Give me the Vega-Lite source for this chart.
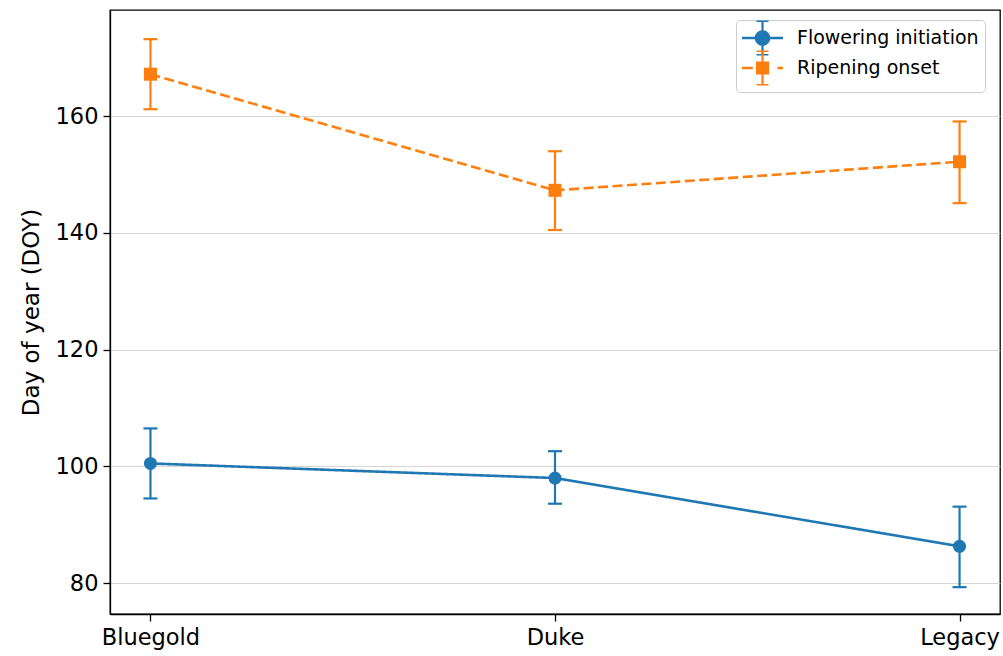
{
  "$schema": "https://vega.github.io/schema/vega-lite/v6.json",
  "autosize": "none",
  "width": 890,
  "height": 604,
  "padding": {"left": 110, "top": 10, "right": 3, "bottom": 42},
  "background": "white",
  "config": {
    "font": "DejaVu Sans",
    "view": {"stroke": "black", "strokeWidth": 1.3}
  },
  "data": {
    "values": [
      {"cultivar": "Bluegold", "stage": "Flowering initiation", "mean": 100.5, "lo": 94.5, "hi": 106.5},
      {"cultivar": "Duke", "stage": "Flowering initiation", "mean": 98.0, "lo": 93.6, "hi": 102.6},
      {"cultivar": "Legacy", "stage": "Flowering initiation", "mean": 86.3, "lo": 79.3, "hi": 93.1},
      {"cultivar": "Bluegold", "stage": "Ripening onset", "mean": 167.2, "lo": 161.2, "hi": 173.2},
      {"cultivar": "Duke", "stage": "Ripening onset", "mean": 147.3, "lo": 140.5, "hi": 154.0},
      {"cultivar": "Legacy", "stage": "Ripening onset", "mean": 152.2, "lo": 145.1, "hi": 159.1}
    ]
  },
  "encoding": {
    "x": {"field": "cultivar", "type": "ordinal", "scale": {"type": "point", "padding": 0.1}, "sort": ["Bluegold", "Duke", "Legacy"],
      "axis": {"title": null, "labelAngle": 0, "grid": false, "labelPadding": 5, "labelFontSize": 22.5, "labelColor": "black", "domainColor": "black", "tickColor": "black", "tickSize": 7, "domainWidth": 1.3, "tickWidth": 1.3, "labelFont": "DejaVu Sans"}},
    "color": {"field": "stage", "type": "nominal", "scale": {"domain": ["Flowering initiation", "Ripening onset"], "range": ["#1f77b4", "#ff7f0e"]},
      "legend": {"title": null, "orient": "none", "legendX": 626, "legendY": 10, "labelFontSize": 19, "labelFont": "DejaVu Sans", "labelColor": "black", "labelLimit": 400, "symbolSize": 576, "symbolType": "M-1,-0.1H2.42V0.1H-1Z", "strokeColor": "#cccccc", "fillColor": "white", "cornerRadius": 4, "padding": 6, "rowPadding": -6, "labelOffset": 31, "symbolStrokeWidth": 0,
        "encode": {"symbols": {"update": {"shape": {"signal": "datum.value === 'Ripening onset' ? 'M-1,-0.1H-0.1V0.1H-1Z M1.95,-0.1H2.42V0.1H1.95Z M0.16,-0.55H1.26V0.55H0.16Z M0.62,-1.4H0.8V1.4H0.62Z M0.21,-1.45H1.21V-1.33H0.21Z M0.21,1.33H1.21V1.45H0.21Z' : 'M-1,-0.1H2.42V0.1H-1Z M0.06,0A0.65,0.65 0 1,1 1.36,0A0.65,0.65 0 1,1 0.06,0Z M0.62,-1.4H0.8V1.4H0.62Z M0.21,-1.45H1.21V-1.33H0.21Z M0.21,1.33H1.21V1.45H0.21Z'"}}}}}}
  },
  "layer": [
    {
      "mark": {"type": "rule", "strokeWidth": 2.2},
      "encoding": {
        "y": {"field": "lo", "type": "quantitative", "scale": {"domain": [74.7, 178.2], "nice": false, "zero": false},
          "axis": {"title": "Day of year (DOY)", "values": [80, 100, 120, 140, 160], "grid": true, "gridColor": "#cccccc", "gridWidth": 0.8, "titlePadding": 12, "labelPadding": 5, "labelFontSize": 22.5, "titleFontSize": 23, "titleFontWeight": "normal", "labelFont": "DejaVu Sans", "titleFont": "DejaVu Sans", "labelColor": "black", "titleColor": "black", "domainColor": "black", "tickColor": "black", "tickSize": 7, "domainWidth": 1.3, "tickWidth": 1.3}},
        "y2": {"field": "hi"}
      }
    },
    {
      "mark": {"type": "tick", "orient": "horizontal", "size": 14, "thickness": 2.2, "opacity": 1},
      "encoding": {"y": {"field": "lo", "type": "quantitative"}}
    },
    {
      "mark": {"type": "tick", "orient": "horizontal", "size": 14, "thickness": 2.2, "opacity": 1},
      "encoding": {"y": {"field": "hi", "type": "quantitative"}}
    },
    {
      "mark": {"type": "line", "strokeWidth": 2.6},
      "encoding": {
        "y": {"field": "mean", "type": "quantitative"},
        "strokeDash": {"condition": {"test": "datum.stage === 'Ripening onset'", "value": [10, 4.5]}, "value": [1, 0]}
      }
    },
    {
      "mark": {"type": "point", "filled": true, "opacity": 1, "size": 170},
      "encoding": {
        "y": {"field": "mean", "type": "quantitative"},
        "shape": {"condition": {"test": "datum.stage === 'Ripening onset'", "value": "square"}, "value": "circle"}
      }
    }
  ]
}
